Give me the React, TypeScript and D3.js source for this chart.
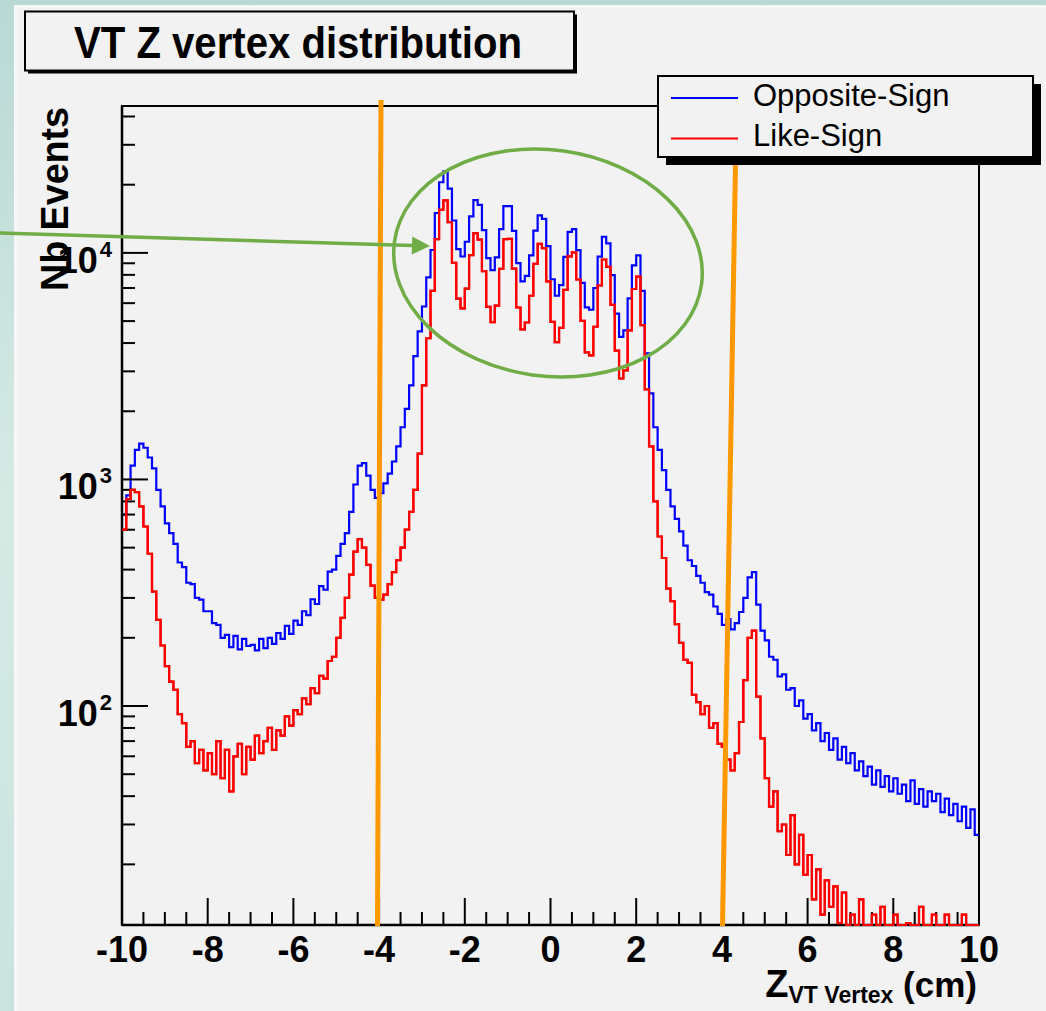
import React from 'react';
import * as d3 from 'd3';

// ---------- data ----------
const X_MIN = -10;
const X_MAX = 10;
const BIN_WIDTH = 0.1;
const Y_MIN = 10.8;
const Y_MAX = 44500;

const xMajorTicks = [-10, -8, -6, -4, -2, 0, 2, 4, 6, 8, 10];
const xTickLabels = ['-10', '-8', '-6', '-4', '-2', '0', '2', '4', '6', '8', '10'];
const yMajorTicks = [100, 1000, 10000];
const yTickExponents = ['2', '3', '4'];

const seriesNames = ['Opposite-Sign', 'Like-Sign'];
const seriesColors = ['#0000ff', '#ff0000'];

// Opposite-Sign counts, 0.1 cm bins from -10 to 10
const oppositeSign = [
  700, 850, 1150, 1350, 1440, 1380, 1250, 1120, 900, 760,
  640, 580, 520, 430, 410, 350, 345, 300, 295, 262,
  262, 232, 228, 200, 206, 182, 204, 178, 198, 184,
  186, 176, 198, 180, 200, 188, 210, 198, 226, 208,
  238, 228, 262, 252, 296, 282, 338, 326, 392, 400,
  460, 520, 580, 720, 950, 1150, 1180, 1040, 900, 830,
  870, 960, 1060, 1200, 1400, 1700, 2050, 2600, 3500, 4500,
  5800, 7800, 10300, 15000, 20500, 22900, 19200, 13900, 10400, 9640,
  11200, 14500, 17100, 16300, 12600, 9480, 8400, 9550, 12740, 16070,
  16070, 12500, 9020, 7480, 7910, 9750, 12530, 14650, 14130, 10720,
  7650, 6470, 7200, 9600, 12390, 12740, 10280, 7380, 5750, 5610,
  7000, 9620, 11780, 11020, 7980, 5390, 4260, 4550, 6300, 8810,
  9750, 6800, 3600, 2400, 1700, 1350, 1100, 900, 760, 670,
  590, 510, 440, 415, 375, 350, 318, 310, 275, 255,
  228, 242, 218, 232, 260, 300, 370, 390, 280, 215,
  195, 165, 160, 135, 138, 118, 120, 100, 106, 88,
  92, 78, 84, 70, 76, 64, 72, 58, 66, 56,
  62, 52, 57, 49, 54, 45, 52, 44, 49, 42,
  48, 41, 45, 38, 47, 37, 43, 36, 42, 38,
  41, 34, 39, 33, 37, 31, 36, 29, 35, 27,
];

// Like-Sign counts, 0.1 cm bins from -10 to 10
const likeSign = [
  600, 820, 900, 880, 760, 620, 470, 320, 240, 185,
  150, 128, 118, 92, 84, 66, 70, 56, 64, 52,
  62, 50, 70, 48, 64, 42, 60, 68, 50, 66,
  58, 74, 62, 70, 80, 64, 78, 74, 90, 82,
  96, 92, 108, 102, 120, 114, 136, 132, 158, 165,
  200, 245, 300, 380, 480, 545, 500, 420, 340, 300,
  295, 310, 345, 390, 440, 500, 600, 720, 900, 1300,
  2600, 4200, 6800, 11500, 15500, 17060, 13660, 9030, 6280, 5690,
  6950, 9770, 12220, 11450, 8300, 5780, 4950, 5850, 8510, 11510,
  11520, 8530, 5740, 4590, 4930, 6470, 8945, 10970, 10500, 7480,
  4960, 4040, 4670, 6870, 9650, 10050, 7630, 5010, 3640, 3530,
  4720, 7180, 9350, 8670, 5900, 3700, 2790, 3030, 4550, 6930,
  7850, 4800, 2500, 1400, 800, 560, 450, 330, 290, 230,
  190, 160, 155, 112, 104, 92, 100, 80, 84, 68,
  66, 58, 52, 62, 85, 130, 200, 215, 110, 72,
  48, 36, 42, 28, 30, 22, 33, 20, 27, 18,
  22, 14, 19, 12, 17, 13, 16, 11, 15, 0,
  12, 0, 14, 10, 0, 12, 0, 13, 9, 0,
  12, 0, 0, 11, 0, 0, 13, 0, 0, 12,
  0, 0, 12, 0, 0, 0, 12, 0, 0, 0,
];

// ---------- layout ----------
const W = 1046;
const H = 1011;
const PL = 122;
const PR = 979;
const PT = 106;
const PB = 925;
const FONT = '"Liberation Sans", Arial, Helvetica, sans-serif';

export default function App() {
  const x = d3.scaleLinear().domain([X_MIN, X_MAX]).range([PL, PR]);
  const y = d3.scaleLog().domain([Y_MIN, Y_MAX]).range([PB, PT]);

  const nBins = oppositeSign.length;
  const edges = d3.range(nBins + 1).map((i) => X_MIN + i * BIN_WIDTH);

  const stepPath = (vals: number[]) => {
    const pts: [number, number][] = vals.map((v, i) => [edges[i], v]);
    pts.push([edges[nBins], vals[vals.length - 1]]);
    return d3
      .line<[number, number]>()
      .x((d) => x(d[0]))
      .y((d) => y(Math.max(d[1], Y_MIN)))
      .curve(d3.curveStepAfter)(pts) as string;
  };

  const xMinor = d3.range(X_MIN, X_MAX + 0.001, 0.5).filter((v) => !xMajorTicks.includes(v));
  const yMinor: number[] = [];
  [10, 100, 1000, 10000].forEach((dec) => {
    for (let k = 2; k <= 9; k++) {
      const v = k * dec;
      if (v >= Y_MIN && v <= Y_MAX) yMinor.push(v);
    }
  });

  const series = [oppositeSign, likeSign];

  // arrow geometry (annotation)
  const ax0 = 0, ay0 = 233, ax1 = 430, ay1 = 246;
  const ang = Math.atan2(ay1 - ay0, ax1 - ax0);
  const ahL = 18, ahW = 9;
  const bx = ax1 - ahL * Math.cos(ang);
  const by = ay1 - ahL * Math.sin(ang);
  const head = [
    [ax1, ay1],
    [bx - ahW * Math.sin(ang), by + ahW * Math.cos(ang)],
    [bx + ahW * Math.sin(ang), by - ahW * Math.cos(ang)],
  ];

  return (
    <svg
      width={W}
      height={H}
      style={{ position: 'absolute', left: 0, top: 0, display: 'block' }}
      fontFamily={FONT}
    >
      <defs>
        <linearGradient id="bg" x1="0" y1="0" x2="0" y2="1">
          <stop offset="0" stopColor="#b9d9d5" />
          <stop offset="0.5" stopColor="#d6eae4" />
          <stop offset="1" stopColor="#c9e3de" />
        </linearGradient>
        <clipPath id="plotClip">
          <rect x={PL} y={PT} width={PR - PL} height={PB - PT + 2} />
        </clipPath>
      </defs>
      <rect x={0} y={0} width={W} height={H} fill="url(#bg)" />
      <rect x={14} y={5} width={W - 14} height={H - 5} fill="#f7f7f7" />
      <rect x={17} y={8} width={W - 17} height={H - 8} fill="#f2f2f2" />

      {/* frame */}
      <rect x={PL} y={PT} width={PR - PL} height={PB - PT} fill="none" stroke="#000" strokeWidth={2} />

      {/* histograms */}
      <g clipPath="url(#plotClip)">
        {series.map((s, i) => (
          <path key={i} d={stepPath(s)} fill="none" stroke={seriesColors[i]} strokeWidth={2.2} />
        ))}
      </g>

      {/* axis ticks */}
      <g stroke="#000" strokeWidth={2}>
        {xMajorTicks.map((t) => (
          <line key={'xM' + t} x1={x(t)} x2={x(t)} y1={PB} y2={PB - 27} />
        ))}
        {xMinor.map((t) => (
          <line key={'xm' + t} x1={x(t)} x2={x(t)} y1={PB} y2={PB - 13} />
        ))}
        {yMajorTicks.map((t) => (
          <line key={'yM' + t} x1={PL} x2={PL + 26} y1={y(t)} y2={y(t)} />
        ))}
        {yMinor.map((t) => (
          <line key={'ym' + t} x1={PL} x2={PL + 13} y1={y(t)} y2={y(t)} />
        ))}
      </g>
      <line x1={PL} x2={PR} y1={PB} y2={PB} stroke="#000" strokeWidth={2.5} />
      <line x1={PL} x2={PL} y1={PT} y2={PB} stroke="#000" strokeWidth={2.5} />
      <g clipPath="url(#plotClip)">
        <path d={stepPath(likeSign)} fill="none" stroke={seriesColors[1]} strokeWidth={2.2} />
      </g>

      {/* x tick labels */}
      {xMajorTicks.map((t, i) => (
        <text key={'xl' + t} x={x(t)} y={962} textAnchor="middle" fontSize={36} fontWeight="bold" fill="#000">
          {xTickLabels[i]}
        </text>
      ))}

      {/* y tick labels */}
      {yMajorTicks.map((t, i) => (
        <text key={'yl' + t} x={112} y={y(t) + 20} textAnchor="end" fontSize={36} fontWeight="bold" fill="#000">
          10
          <tspan dx={2} dy={-16} fontSize={22}>
            {yTickExponents[i]}
          </tspan>
        </text>
      ))}

      {/* y axis title */}
      <text
        transform={`translate(68,107) rotate(-90)`}
        textAnchor="end"
        fontSize={38}
        fontWeight="bold"
        fill="#000"
        textLength={184}
        lengthAdjust="spacingAndGlyphs"
      >
        Nb Events
      </text>

      {/* x axis title */}
      <text x={977} y={997} textAnchor="end" fontWeight="bold" fill="#000" fontSize={38}>
        Z
        <tspan fontSize={23} dy={6}>VT Vertex</tspan>
        <tspan fontSize={35} dy={-6}> (cm)</tspan>
      </text>

      {/* title box */}
      <rect x={28} y={14.5} width={549} height={59} fill="#000" />
      <rect x={25} y={11.5} width={549} height={59} fill="#f2f2f2" stroke="#000" strokeWidth={2} />
      <text x={74} y={58} fontSize={44} fontWeight="bold" fill="#000" textLength={448} lengthAdjust="spacingAndGlyphs">
        VT Z vertex distribution
      </text>

      {/* orange annotation lines */}
      <line x1={381} y1={100} x2={377.5} y2={926} stroke="#ff9900" strokeWidth={5} />
      <line x1={735.5} y1={163} x2={722.5} y2={926} stroke="#ff9900" strokeWidth={5} />

      {/* legend */}
      <rect x={666} y={84} width={375} height={81} fill="#000" />
      <rect x={658} y={76} width={375} height={81} fill="#f2f2f2" stroke="#000" strokeWidth={2} />
      {seriesNames.map((n, i) => (
        <g key={n}>
          <line x1={671} x2={738} y1={98 + i * 40.5} y2={98 + i * 40.5} stroke={seriesColors[i]} strokeWidth={2} />
          <text x={753} y={106 + i * 39.5} fontSize={31} fill="#000">
            {n}
          </text>
        </g>
      ))}

      {/* green ellipse + arrow */}
      <ellipse cx={548} cy={263} rx={155} ry={113} fill="none" stroke="#70ad47" strokeWidth={3.5}
        transform="rotate(8,548,263)" />
      <line x1={ax0} y1={ay0} x2={bx} y2={by} stroke="#70ad47" strokeWidth={3.5} />
      <polygon points={head.map((p) => p.join(',')).join(' ')} fill="#70ad47" />
    </svg>
  );
}
